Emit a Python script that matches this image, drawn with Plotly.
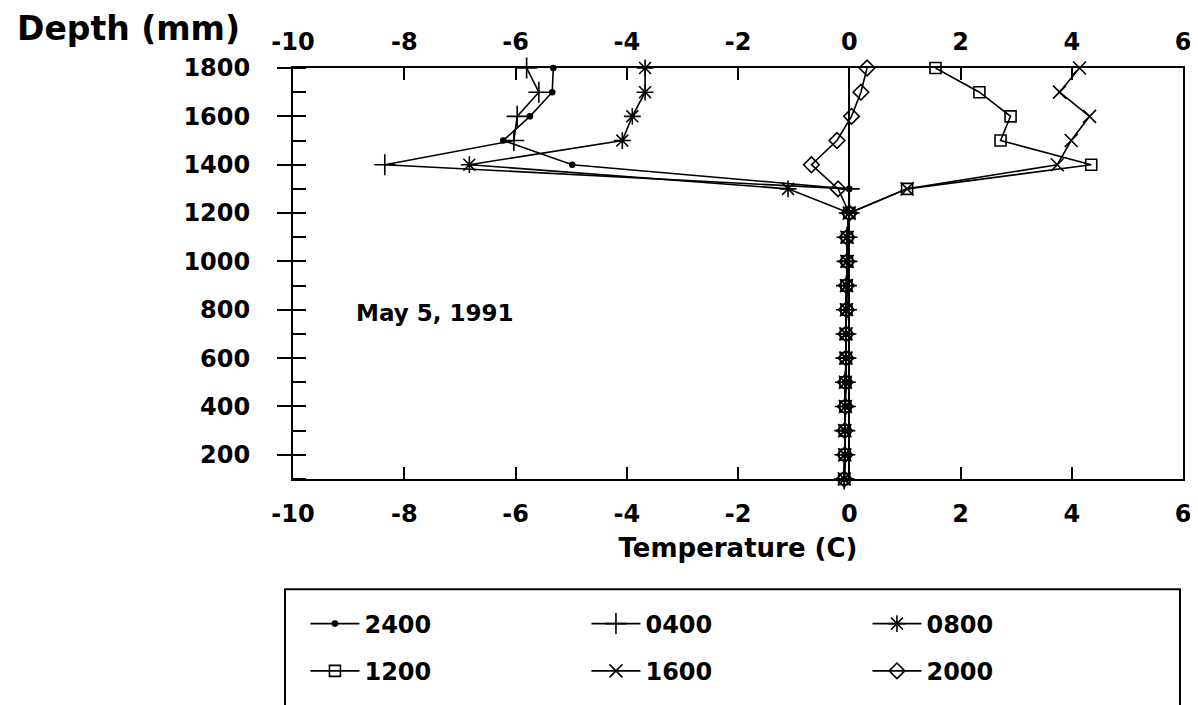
import plotly.graph_objects as go

# Depths (mm), top to bottom
depths = [1800, 1700, 1600, 1500, 1400, 1300, 1200, 1100, 1000, 900, 800, 700, 600, 500, 400, 300, 200, 100]

# Temperature profiles (C) for each observation time, May 5, 1991
t_2400 = [-5.32, -5.34, -5.74, -6.22, -4.98, 0.00, 0.00, -0.04, -0.04, -0.05, -0.05, -0.06, -0.06, -0.07, -0.07, -0.08, -0.08, -0.09]
t_0400 = [-5.80, -5.58, -5.97, -6.03, -8.35, 0.00, 0.00, -0.04, -0.04, -0.05, -0.05, -0.06, -0.06, -0.07, -0.07, -0.08, -0.08, -0.09]
t_0800 = [-3.67, -3.67, -3.90, -4.08, -6.83, -1.10, 0.00, -0.04, -0.04, -0.05, -0.05, -0.06, -0.06, -0.07, -0.07, -0.08, -0.08, -0.09]
t_1200 = [1.55, 2.34, 2.90, 2.72, 4.35, 1.04, 0.00, -0.04, -0.04, -0.05, -0.05, -0.06, -0.06, -0.07, -0.07, -0.08, -0.08, -0.09]
t_1600 = [4.14, 3.78, 4.32, 3.99, 3.74, 1.04, 0.00, -0.04, -0.04, -0.05, -0.05, -0.06, -0.06, -0.07, -0.07, -0.08, -0.08, -0.09]
t_2000 = [0.32, 0.21, 0.04, -0.22, -0.68, -0.20, 0.00, -0.04, -0.04, -0.05, -0.05, -0.06, -0.06, -0.07, -0.07, -0.08, -0.08, -0.09]

series_names = ["2400", "0400", "0800", "1200", "1600", "2000"]
series_values = [t_2400, t_0400, t_0800, t_1200, t_1600, t_2000]
series_symbols = ["circle", "cross-thin-open", "asterisk-open", "square-open", "x-thin-open", "diamond-open"]
series_sizes = [5, 15, 14, 11, 13, 12]
series_legend = ["legend", "legend", "legend", "legend2", "legend2", "legend2"]

x_ticks = [-10, -8, -6, -4, -2, 0, 2, 4, 6]
y_ticks = [200, 400, 600, 800, 1000, 1200, 1400, 1600, 1800]

FONT = "DejaVu Sans"
tickfont = dict(family=FONT, size=24, color="black", weight="bold")

fig = go.Figure()
for name, vals, sym, sz, lg in zip(series_names, series_values, series_symbols, series_sizes, series_legend):
    fig.add_trace(go.Scatter(
        x=vals, y=depths, name=name, mode="lines+markers",
        line=dict(color="black", width=1.6),
        marker=dict(symbol=sym, size=sz, color="black",
                    line=dict(color="black", width=1.6)),
        legend=lg, cliponaxis=False,
    ))

# carrier (draws nothing) so that the top temperature axis is rendered
fig.add_trace(go.Scatter(x=t_2000, y=depths, xaxis="x2", mode="none",
                         showlegend=False, hoverinfo="skip"))

fig.update_layout(
    width=1190, height=697,
    margin=dict(l=285, r=15, t=60, b=226, autoexpand=False),
    paper_bgcolor="white", plot_bgcolor="white",
    font=dict(family=FONT, color="black"),
    xaxis=dict(
        range=[-10, 6], tickvals=x_ticks, ticktext=[str(v) for v in x_ticks],
        ticks="inside", ticklen=12, tickwidth=2, tickcolor="black",
        showline=True, linecolor="black", linewidth=2,
        showgrid=False, zeroline=True, zerolinecolor="black", zerolinewidth=1.6,
        tickfont=tickfont, ticklabelstandoff=12,
        title=dict(text="Temperature (C)", font=dict(family=FONT, size=26, color="black", weight="bold"), standoff=12),
    ),
    xaxis2=dict(
        overlaying="x", side="top", anchor="y", matches="x",
        range=[-10, 6], tickvals=x_ticks, ticktext=[str(v) for v in x_ticks],
        ticks="inside", ticklen=12, tickwidth=2, tickcolor="black",
        showline=True, linecolor="black", linewidth=2,
        showgrid=False, zeroline=False, tickfont=tickfont, ticklabelstandoff=6,
    ),
    yaxis=dict(
        range=[100, 1800], tickvals=y_ticks,
        ticks="outside", ticklen=14, tickwidth=2, tickcolor="black",
        minor=dict(dtick=100, tick0=100, ticks="inside", ticklen=13, tickwidth=2, tickcolor="black", showgrid=False),
        showline=True, linecolor="black", linewidth=2, mirror=True,
        showgrid=False, zeroline=False, tickfont=tickfont, ticklabelstandoff=22,
    ),
    legend=dict(orientation="h", x=0.014, y=-0.298, xanchor="left", yanchor="top",
                entrywidth=217, entrywidthmode="pixels", itemwidth=49,
                font=dict(family=FONT, size=24, color="black", weight="bold"),
                bgcolor="rgba(0,0,0,0)", traceorder="normal"),
    legend2=dict(orientation="h", x=0.014, y=-0.413, xanchor="left", yanchor="top",
                 entrywidth=217, entrywidthmode="pixels", itemwidth=49,
                 font=dict(family=FONT, size=24, color="black", weight="bold"),
                 bgcolor="rgba(0,0,0,0)", traceorder="normal"),
    shapes=[dict(type="rect", xref="paper", yref="paper",
                 x0=-0.009, x1=0.9966, y0=-0.58, y1=-0.268,
                 line=dict(color="black", width=2), fillcolor="rgba(0,0,0,0)")],
    annotations=[
        dict(text="Depth (mm)", xref="paper", yref="paper", x=-0.312, y=1.095,
             xanchor="left", yanchor="middle", showarrow=False,
             font=dict(family=FONT, size=33, color="black", weight="bold")),
        dict(text="May 5, 1991", xref="x", yref="y", x=-7.46, y=785,
             xanchor="center", yanchor="middle", showarrow=False,
             font=dict(family=FONT, size=23, color="black", weight="bold")),
    ],
)

fig.write_html("out.html")
